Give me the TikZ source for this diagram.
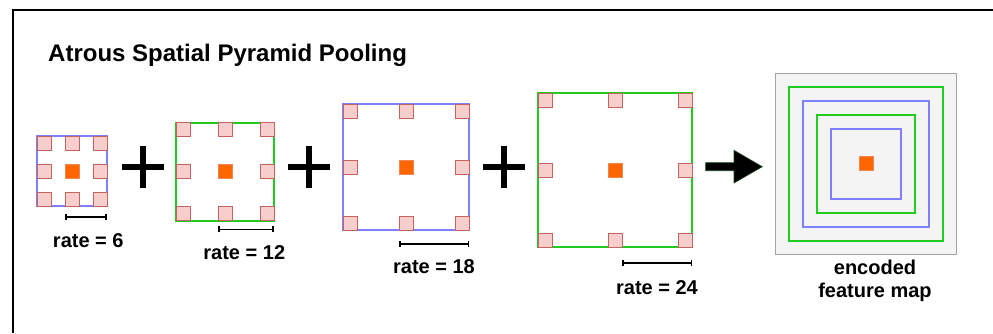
\documentclass[tikz,border=0pt]{standalone}
\usepackage{fontspec}
\setmainfont{Liberation Sans}
\usepackage{xcolor}
\usepackage{tikz}
\usetikzlibrary{arrows.meta, positioning, calc}

\definecolor{kblue}{HTML}{7F7FFF}
\definecolor{kgreen}{HTML}{1FCC1F}
\definecolor{cellfill}{HTML}{F8CECC}
\definecolor{celldraw}{HTML}{C2645F}
\definecolor{hitfill}{HTML}{FF6600}
\definecolor{hitdraw}{HTML}{EE8655}
\definecolor{mapfill}{HTML}{F4F4F4}
\definecolor{mapdraw}{HTML}{A3A3A3}
\definecolor{arrowedge}{HTML}{1E4A1E}

\begin{document}
\begin{tikzpicture}[
        x=1pt, y=-1pt,
        frame/.style={line width=2pt, black},
        title/.style={font=\bfseries\fontsize{24}{28}\selectfont, inner sep=0pt},
        kernel/.style={rectangle, draw=#1, line width=2pt, inner sep=0pt, outer sep=0pt},
        cell/.style={rectangle, draw=celldraw, fill=cellfill, line width=1pt, minimum size=14pt, inner sep=0pt, outer sep=0pt},
        hit/.style={rectangle, draw=hitdraw, fill=hitfill, line width=1pt, minimum size=14pt, inner sep=0pt, outer sep=0pt},
        plus/.style={line width=6.5pt, black},
        ratebar/.style={{Bar[width=6pt]}-{Bar[width=6pt]}, line width=1.6pt},
        ratetext/.style={font=\bfseries\fontsize{20}{23}\selectfont, inner sep=0pt},
        bigarrow/.style={fill=black, draw=arrowedge, line width=0.6pt, line join=miter},
        fmap/.style={rectangle, draw=mapdraw, fill=mapfill, line width=1.3pt, minimum size=181pt, inner sep=0pt, outer sep=0pt}
    ]

    \useasboundingbox (0,0) rectangle (993,333);
    \draw[frame] (13,333) |- (993,10.3);

    % Title
    \node[title, anchor=base west] (title) at (48,61.7) {Atrous Spatial Pyramid Pooling};

    % Kernels (5x5, 7x7, 9x9, 11x11 cells of 14pt)
    \node[kernel=kblue, minimum size=70pt] (k1) at (72,171.4) {};
    \node[kernel=kgreen, minimum size=98pt] (k2) at (225,171.7) {};
    \node[kernel=kblue, minimum size=126pt] (k3) at (406.3,167.2) {};
    \node[kernel=kgreen, minimum size=154pt] (k4) at (615.3,170.3) {};

    \foreach \k in {k1,k2,k3,k4} {
        \foreach \a [count=\j] in {north west,north,north east,west,east,south west,south,south east}
            \node[cell, anchor=\a] (\k-\j) at (\k.\a) {};
        \node[hit] (\k-hit) at (\k.center) {};
    }

    % Plus signs
    \foreach \px in {143,309,504}
        \draw[plus] (\px-21,167) -- ++(42,0) (\px,146) -- ++(0,42);

    % Rate bars and labels
    \draw[ratebar] ($(k1-2.west |- k1.south)+(0,10.8)$) -- ($(k1.south east)+(0,10.8)$);
    \draw[ratebar] ($(k2-2.west |- k2.south)+(0,8.6)$) -- ($(k2.south east)+(0,8.6)$);
    \draw[ratebar] ($(k3-2.west |- k3.south)+(0,13.8)$) -- ($(k3.south east)+(0,13.8)$);
    \draw[ratebar] ($(k4-2.east |- k4.south)+(0,15.4)$) -- ($(k4.south east)+(0,15.4)$);

    \node[ratetext, anchor=base] (r1) at (88.3,247.7) {rate = 6};
    \node[ratetext, anchor=base] (r2) at (244.3,259.3) {rate = 12};
    \node[ratetext, anchor=base] (r3) at (434,273.3) {rate = 18};
    \node[ratetext, anchor=base] (r4) at (657,294.3) {rate = 24};

    % Encoded feature map
    \node[fmap] (map) at (866.2,163.9) {};
    \foreach \s/\c [count=\i] in {154/kgreen,126/kblue,98/kgreen,70/kblue}
        \node[kernel=\c, minimum size=\s pt] (ring\i) at (map.center) {};
    \node[hit] (map-hit) at (map.center) {};
    \node[ratetext, align=center, anchor=north] (maptext) at (875,260) {encoded\\feature map};

    % Arrow
    \coordinate (a1) at (705.7,166.7);
    \coordinate (a2) at (762.3,166.7);
    \draw[bigarrow] (a1) ++(0,-4) -- ++(28.3,0) -- ++(0,-12.4) -- (a2)
        -- ($(a2)+(-28.3,16.3)$) -- ++(0,-12.3) -- ($(a1)+(0,4)$) -- cycle;

\end{tikzpicture}
\end{document}
